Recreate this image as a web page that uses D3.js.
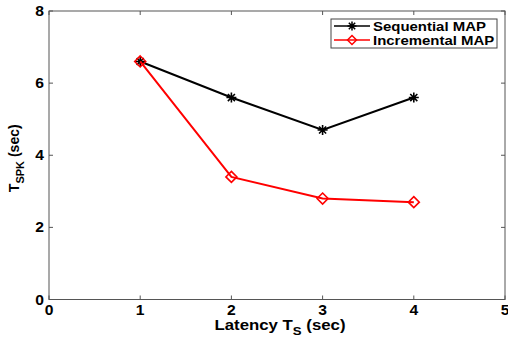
<!DOCTYPE html>
<html>
<head>
<meta charset="utf-8">
<script src="https://cdn.jsdelivr.net/npm/d3@7"></script>
<style>
  body { margin: 0; background: #fff; }
  svg { display: block; font-family: "Liberation Sans", Arial, sans-serif; font-weight: bold; }
</style>
</head>
<body>
<svg id="chart"></svg>
<script>
// Data
var latency = [1, 2, 3, 4];
var sequentialMAP = [6.6, 5.6, 4.7, 5.6];
var incrementalMAP = [6.6, 3.4, 2.8, 2.7];
var xTicks = [0, 1, 2, 3, 4, 5];
var yTicks = [0, 2, 4, 6, 8];

var width = 508, height = 338;
var margin = { left: 49, top: 11, right: 3, bottom: 38.5 };

var svg = d3.select('#chart').attr('width', width).attr('height', height);

var x = d3.scaleLinear().domain([0, 5]).range([margin.left, width - margin.right]);
var y = d3.scaleLinear().domain([0, 8]).range([height - margin.bottom, margin.top]);

// axes box
var x0 = x(0), x1 = x(5), y0 = y(0), y1 = y(8);
svg.append('rect')
    .attr('x', x0).attr('y', y1)
    .attr('width', x1 - x0).attr('height', y0 - y1)
    .attr('fill', 'none').attr('stroke', '#555').attr('stroke-width', 1);

// ticks (inside, on all four sides)
var tickLen = 4;
var g = svg.append('g').attr('stroke', '#555').attr('stroke-width', 1);
xTicks.forEach(function (t) {
    g.append('line').attr('x1', x(t)).attr('x2', x(t)).attr('y1', y0).attr('y2', y0 - tickLen);
    g.append('line').attr('x1', x(t)).attr('x2', x(t)).attr('y1', y1).attr('y2', y1 + tickLen);
});
yTicks.forEach(function (t) {
    g.append('line').attr('x1', x0).attr('x2', x0 + tickLen).attr('y1', y(t)).attr('y2', y(t));
    g.append('line').attr('x1', x1).attr('x2', x1 - tickLen).attr('y1', y(t)).attr('y2', y(t));
});

// tick labels
svg.append('g').selectAll('text').data(xTicks).enter().append('text')
    .attr('transform', function (d) { return 'translate(' + x(d) + ',' + (y0 + 15) + ')scale(1.12,1)'; })
    .attr('text-anchor', 'middle')
    .attr('font-size', 14)
    .text(function (d) { return d; });

svg.append('g').selectAll('text').data(yTicks).enter().append('text')
    .attr('transform', function (d) { return 'translate(' + (x0 - 5) + ',' + (y(d) + 5) + ')scale(1.12,1)'; })
    .attr('text-anchor', 'end')
    .attr('font-size', 14)
    .text(function (d) { return d; });

// axis labels
var xl = svg.append('text')
    .attr('transform', 'translate(' + 280 + ',330)scale(1.2,1)')
    .attr('text-anchor', 'middle')
    .attr('font-size', 14);
xl.append('tspan').text('Latency T');
xl.append('tspan').attr('font-size', 11).attr('dy', 5).text('S');
xl.append('tspan').attr('dy', -5).text(' (sec)');

var yl = svg.append('text')
    .attr('transform', 'translate(19,' + ((y0 + y1) / 2 + 3) + ')rotate(-90)')
    .attr('text-anchor', 'middle')
    .attr('font-size', 14);
yl.append('tspan').text('T');
yl.append('tspan').attr('font-size', 11).attr('dy', 5).text('SPK');
yl.append('tspan').attr('dy', -5).text(' (sec)');

// series
var line = d3.line()
    .x(function (d) { return x(d[0]); })
    .y(function (d) { return y(d[1]); });

var seqPts = latency.map(function (d, i) { return [d, sequentialMAP[i]]; });
var incPts = latency.map(function (d, i) { return [d, incrementalMAP[i]]; });

var starPath = function (cx, cy, r) {
    var p = '';
    for (var k = 0; k < 4; k++) {
        var a = k * Math.PI / 4;
        p += 'M' + (cx - r * Math.cos(a)) + ',' + (cy - r * Math.sin(a)) +
             'L' + (cx + r * Math.cos(a)) + ',' + (cy + r * Math.sin(a));
    }
    return p;
};
var diamondPath = function (cx, cy, r) {
    return 'M' + cx + ',' + (cy - r) + 'L' + (cx + r) + ',' + cy +
           'L' + cx + ',' + (cy + r) + 'L' + (cx - r) + ',' + cy + 'Z';
};

svg.append('path').datum(seqPts).attr('d', line)
    .attr('fill', 'none').attr('stroke', '#000').attr('stroke-width', 2);
svg.append('g').selectAll('path').data(seqPts).enter().append('path')
    .attr('d', function (d) { return starPath(x(d[0]), y(d[1]), 5); })
    .attr('stroke', '#000').attr('stroke-width', 1.6);

svg.append('path').datum(incPts).attr('d', line)
    .attr('fill', 'none').attr('stroke', '#ff0000').attr('stroke-width', 2);
svg.append('g').selectAll('path').data(incPts).enter().append('path')
    .attr('d', function (d) { return diamondPath(x(d[0]), y(d[1]), 5.5); })
    .attr('fill', 'none').attr('stroke', '#ff0000').attr('stroke-width', 1.6);

// legend
var lg = svg.append('g');
lg.append('rect').attr('x', 331).attr('y', 19).attr('width', 166).attr('height', 29)
    .attr('fill', '#fff').attr('stroke', '#444').attr('stroke-width', 1);
var legendItems = [
    { name: 'Sequential MAP', color: '#000', marker: starPath },
    { name: 'Incremental MAP', color: '#ff0000', marker: diamondPath }
];
legendItems.forEach(function (it, i) {
    var ly = 26 + i * 14;
    lg.append('line').attr('x1', 334).attr('x2', 370).attr('y1', ly).attr('y2', ly)
        .attr('stroke', it.color).attr('stroke-width', 1.5);
    lg.append('path').attr('d', it.marker(352, ly, 4.5))
        .attr('fill', 'none').attr('stroke', it.color).attr('stroke-width', 1.5);
    lg.append('text').attr('transform', 'translate(373,' + (ly + 5) + ')scale(1.15,1)')
        .attr('font-size', 13).text(it.name);
});
</script>
</body>
</html>
